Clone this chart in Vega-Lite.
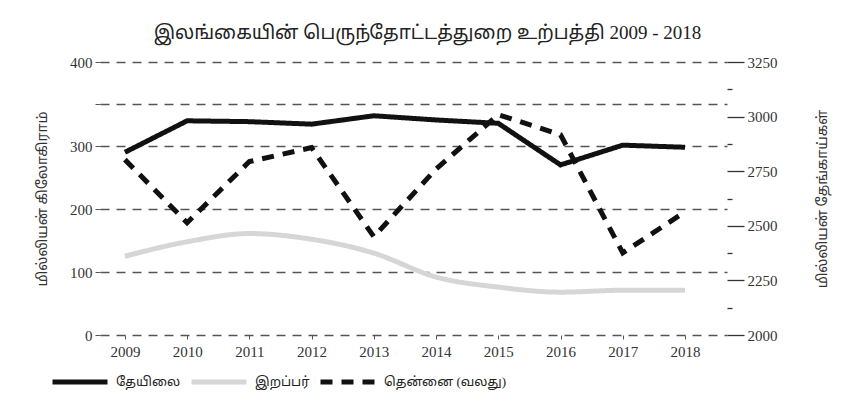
{
  "$schema": "https://vega.github.io/schema/vega-lite/v6.json",
  "width": 627,
  "height": 273,
  "autosize": {"type": "none"},
  "padding": {"left": 100, "top": 62, "right": 114, "bottom": 70},
  "background": "white",
  "config": {
    "view": {"stroke": null},
    "font": "Liberation Serif",
    "axis": {"labelFont": "Liberation Serif", "labelFontSize": 15, "labelColor": "#333", "titleFont": "Liberation Serif, Noto Sans Tamil, Noto Serif Tamil", "titleFontWeight": "normal", "titleFontSize": 14, "titleColor": "#333", "domain": false},
    "legend": {
      "orient": "none",
      "legendX": -50,
      "legendY": 290,
      "direction": "horizontal",
      "symbolType": "stroke",
      "symbolSize": 3025,
      "symbolStrokeWidth": 5,
      "labelFont": "Liberation Serif, Noto Sans Tamil, Noto Serif Tamil",
      "labelFontSize": 13,
      "labelColor": "#222",
      "labelOffset": 6,
      "columnPadding": 0,
      "title": null
    }
  },
  "title": {
    "text": "இலங்கையின் பெருந்தோட்டத்துறை உற்பத்தி 2009 - 2018",
    "anchor": "middle",
    "font": "Liberation Serif, Noto Sans Tamil, Noto Serif Tamil",
    "fontSize": 19,
    "fontWeight": "normal",
    "color": "#222",
    "offset": 12,
    "dx": 14
  },
  "data": {
    "values": [
      {"year": 2009, "series": "தேயிலை", "value": 290},
      {"year": 2010, "series": "தேயிலை", "value": 330},
      {"year": 2011, "series": "தேயிலை", "value": 329},
      {"year": 2012, "series": "தேயிலை", "value": 326},
      {"year": 2013, "series": "தேயிலை", "value": 336},
      {"year": 2014, "series": "தேயிலை", "value": 331},
      {"year": 2015, "series": "தேயிலை", "value": 327},
      {"year": 2016, "series": "தேயிலை", "value": 270},
      {"year": 2017, "series": "தேயிலை", "value": 301},
      {"year": 2018, "series": "தேயிலை", "value": 298},
      {"year": 2009, "series": "இறப்பர்", "value": 125},
      {"year": 2010, "series": "இறப்பர்", "value": 148},
      {"year": 2011, "series": "இறப்பர்", "value": 161},
      {"year": 2012, "series": "இறப்பர்", "value": 152},
      {"year": 2013, "series": "இறப்பர்", "value": 130},
      {"year": 2014, "series": "இறப்பர்", "value": 92},
      {"year": 2015, "series": "இறப்பர்", "value": 76},
      {"year": 2016, "series": "இறப்பர்", "value": 68},
      {"year": 2017, "series": "இறப்பர்", "value": 71},
      {"year": 2018, "series": "இறப்பர்", "value": 71},
      {"year": 2009, "series": "தென்னை (வலது)", "value": 2803},
      {"year": 2010, "series": "தென்னை (வலது)", "value": 2514},
      {"year": 2011, "series": "தென்னை (வலது)", "value": 2794},
      {"year": 2012, "series": "தென்னை (வலது)", "value": 2858},
      {"year": 2013, "series": "தென்னை (வலது)", "value": 2450},
      {"year": 2014, "series": "தென்னை (வலது)", "value": 2760},
      {"year": 2015, "series": "தென்னை (வலது)", "value": 3009},
      {"year": 2016, "series": "தென்னை (வலது)", "value": 2917},
      {"year": 2017, "series": "தென்னை (வலது)", "value": 2376},
      {"year": 2018, "series": "தென்னை (வலது)", "value": 2564}
    ]
  },
  "encoding": {
    "x": {
      "field": "year",
      "type": "quantitative",
      "scale": {"domain": [2008.6, 2018.675], "nice": false, "zero": false},
      "axis": {"title": null, "values": [2009, 2010, 2011, 2012, 2013, 2014, 2015, 2016, 2017, 2018], "format": "d", "grid": false, "tickSize": 4, "tickColor": "#555", "labelPadding": 5, "labelFlush": false}
    },
    "color": {
      "field": "series",
      "type": "nominal",
      "scale": {"domain": ["தேயிலை", "இறப்பர்", "தென்னை (வலது)"], "range": ["#111111", "#d6d6d6", "#111111"]},
      "legend": {"title": null}
    },
    "strokeDash": {
      "field": "series",
      "type": "nominal",
      "scale": {"domain": ["தேயிலை", "இறப்பர்", "தென்னை (வலது)"], "range": [[1, 0], [1, 0], [12, 9]]},
      "legend": {"title": null}
    }
  },
  "layer": [
    {
      "encoding": {
        "y": {
          "field": "value",
          "type": "quantitative",
          "scale": {"domain": [0, 300, 400], "range": [273, 84, 0], "nice": false, "zero": false},
          "axis": {
            "title": "மில்லியன் கிலோகிராம்",
            "values": [0, 100, 200, 300, 350, 400],
            "labelExpr": "datum.value == 350 ? '' : datum.label",
            "grid": true,
            "gridDash": [9, 7],
            "gridColor": "#555",
            "gridWidth": 1.5,
            "tickSize": 5,
            "tickColor": "#555",
            "labelPadding": 3,
            "titlePadding": 20
          }
        }
      },
      "layer": [
        {
          "transform": [{"filter": "datum.series == 'தேயிலை'"}],
          "mark": {"type": "line", "strokeWidth": 5, "interpolate": "linear"}
        },
        {
          "transform": [{"filter": "datum.series == 'இறப்பர்'"}],
          "mark": {"type": "line", "strokeWidth": 5, "interpolate": "monotone"}
        }
      ]
    },
    {
      "transform": [{"filter": "datum.series == 'தென்னை (வலது)'"}],
      "mark": {"type": "line", "strokeWidth": 5, "interpolate": "linear"},
      "encoding": {
        "y": {
          "field": "value",
          "type": "quantitative",
          "scale": {"domain": [2000, 3250], "nice": false, "zero": false},
          "axis": {
            "orient": "right",
            "title": "மில்லியன் தேங்காய்கள்",
            "titleAngle": 270,
            "values": [2000, 2125, 2250, 2375, 2500, 2625, 2750, 2875, 3000, 3125, 3250],
            "labelExpr": "datum.value % 250 == 0 ? datum.label : ''",
            "format": "d",
            "grid": false,
            "tickSize": {"condition": {"test": "datum.value % 250 == 0", "value": 17}, "value": 5},
            "tickColor": "#333",
            "tickWidth": 1.3,
            "labelPadding": 3,
            "titlePadding": 52
          }
        }
      }
    }
  ],
  "resolve": {"scale": {"y": "independent"}}
}
